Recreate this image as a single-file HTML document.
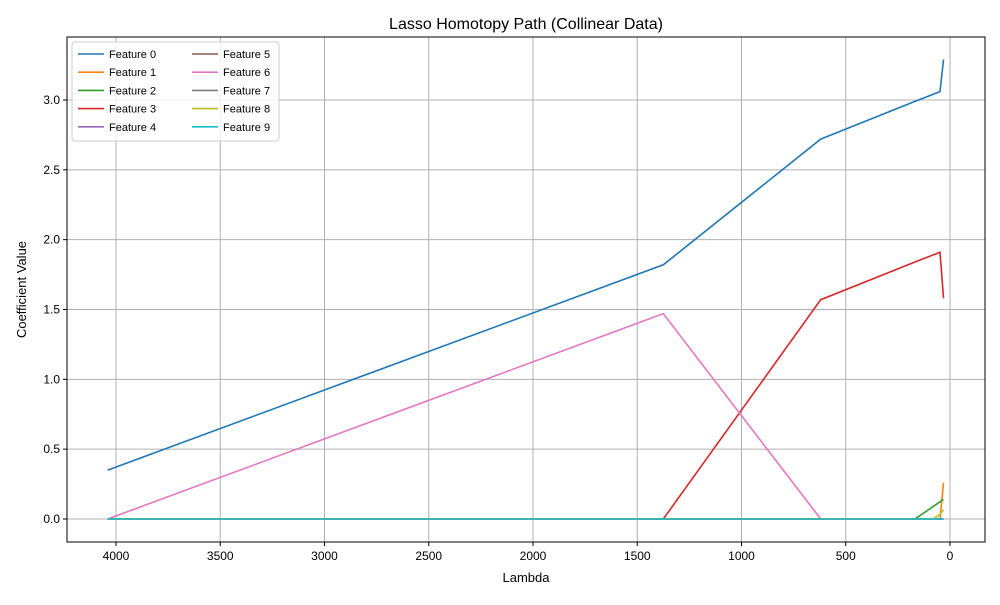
<!DOCTYPE html>
<html><head><meta charset="utf-8"><style>body{margin:0;background:#fff}svg{font-family:"Liberation Sans",sans-serif}</style></head>
<body>
<svg id="c" width="1000" height="600"></svg>
<script>
const lambdas=[4040,1375,620,168,82,48,31];
const f0=[0.35,1.82,2.72,2.99,3.04,3.06,3.29];
const f1=[0,0,0,0,0,0,0.26];
const f2=[0,0,0,0,0.088,0.123,0.14];
const f3=[0,0,1.57,1.84,1.89,1.91,1.58];
const f4=[0,0,0,0,0,0,0];
const f5=[0,0,0,0,0,0,0];
const f6=[0,1.47,0,0,0,0,0];
const f7=[0,0,0,0,0,0,0];
const f8=[0,0,0,0,0,0.033,0.065];
const f9=[0,0,0,0,0,0,0];
const series=[f0,f1,f2,f3,f4,f5,f6,f7,f8,f9];
const names=["Feature 0","Feature 1","Feature 2","Feature 3","Feature 4","Feature 5","Feature 6","Feature 7","Feature 8","Feature 9"];
const colors=["#1f77b4","#ff7f0e","#2ca02c","#d62728","#9467bd","#8c564b","#e377c2","#7f7f7f","#bcbd22","#17becf"];
const xTicks=[4000,3500,3000,2500,2000,1500,1000,500,0];
const yTicks=[0,0.5,1,1.5,2,2.5,3];
const L=67,R=985,T=37,B=542;
const xs=v=>950-v*0.2085, ys=v=>519-v*139.67;
const svg=document.getElementById('c');const NS='http://www.w3.org/2000/svg';
function mk(t,a,p){const e=document.createElementNS(NS,t);for(const k in a)e.setAttribute(k,a[k]);(p||svg).appendChild(e);return e;}
xTicks.forEach(v=>{const x=xs(v);
const g=mk('line',{x1:x,x2:x,y1:T,y2:B,stroke:'#b0b0b0','stroke-width':1});

mk('line',{x1:x,x2:x,y1:B,y2:B+4,stroke:'#000'});
const t=mk('text',{x:x,y:B+18,'text-anchor':'middle','font-size':12});t.textContent=v;
});
yTicks.forEach(v=>{const y=ys(v);
const g=mk('line',{x1:L,x2:R,y1:y,y2:y,stroke:'#b0b0b0','stroke-width':1});

mk('line',{x1:L-4,x2:L,y1:y,y2:y,stroke:'#000'});
const t=mk('text',{x:L-7,y:y+4,'text-anchor':'end','font-size':12});t.textContent=v.toFixed(1);
});
series.forEach((s,i)=>{const p=mk('polyline',{points:s.map((v,j)=>xs(lambdas[j])+','+ys(v)).join(' '),fill:'none',stroke:colors[i],'stroke-width':1.6});
});
const fr=mk('rect',{x:L,y:T,width:R-L,height:B-T,fill:'none',stroke:'#000','stroke-width':1});

const tt=mk('text',{x:(L+R)/2,y:29,'text-anchor':'middle','font-size':16});tt.textContent='Lasso Homotopy Path (Collinear Data)';

const xl=mk('text',{x:(L+R)/2,y:582,'text-anchor':'middle','font-size':13});xl.textContent='Lambda';

const yl=mk('text',{x:26,y:(T+B)/2,'text-anchor':'middle','font-size':13,transform:'rotate(-90 26 '+(T+B)/2+')'});yl.textContent='Coefficient Value';

const lg=mk('g',{});
mk('rect',{x:72,y:42,width:207,height:99,rx:3,fill:'#fff','fill-opacity':0.8,stroke:'#ccc'},lg);
names.forEach((n,i)=>{const col=Math.floor(i/5),row=i%5;const x=78+col*114,y=54+row*18.2;
const e=mk('g',{},lg);
mk('line',{x1:x,x2:x+26,y1:y,y2:y,stroke:colors[i],'stroke-width':1.6},e);
const t=mk('text',{x:x+31,y:y+4,'font-size':11},e);t.textContent=n;});
</script>
</body></html>
